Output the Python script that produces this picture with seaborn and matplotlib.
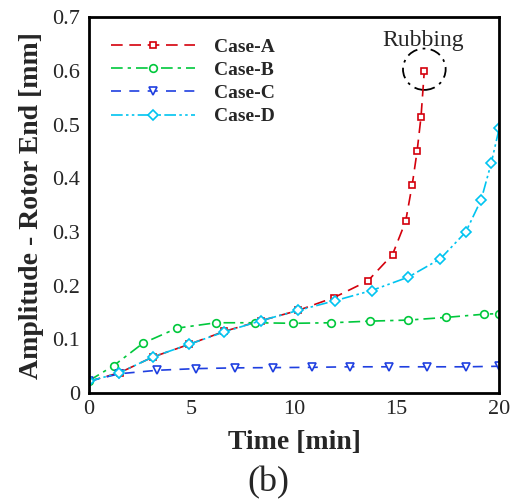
import numpy as np
import pandas as pd
import matplotlib
matplotlib.use("Agg")
import matplotlib.pyplot as plt
from matplotlib.patches import Ellipse
from matplotlib.ticker import MultipleLocator
import seaborn as sns

# ---- data ----
time_a = [0, 1.5, 3.1, 4.9, 6.6, 8.4, 10.2, 11.95, 13.6, 14.8, 15.44, 15.76, 16.0, 16.19, 16.35]
amp_a = [0.022, 0.038, 0.067, 0.091, 0.115, 0.135, 0.154, 0.178, 0.209, 0.258, 0.320, 0.388, 0.451, 0.515, 0.600]

time_b = [0, 1.2, 2.64, 4.3, 6.19, 8.08, 9.97, 11.82, 13.68, 15.57, 17.42, 19.28, 20.0]
amp_b = [0.023, 0.051, 0.093, 0.121, 0.131, 0.131, 0.130, 0.131, 0.134, 0.136, 0.141, 0.147, 0.148]

time_c = [0, 1.47, 3.32, 5.21, 7.1, 8.99, 10.88, 12.73, 14.62, 16.48, 18.37, 20.0]
amp_c = [0.022, 0.036, 0.0425, 0.0456, 0.047, 0.0475, 0.048, 0.049, 0.049, 0.049, 0.049, 0.050]

time_d = [0, 1.47, 3.13, 4.89, 6.6, 8.4, 10.2, 11.99, 13.78, 15.57, 17.13, 18.37, 19.12, 19.61, 20.0]
amp_d = [0.022, 0.0375, 0.0675, 0.091, 0.114, 0.135, 0.154, 0.172, 0.191, 0.216, 0.250, 0.300, 0.360, 0.428, 0.493]

case_labels = ["Case-A", "Case-B", "Case-C", "Case-D"]
x_ticks = [0, 5, 10, 15, 20]
y_ticks = [0, 0.1, 0.2, 0.3, 0.4, 0.5, 0.6, 0.7]
y_tick_labels = ["0", "0.1", "0.2", "0.3", "0.4", "0.5", "0.6", "0.7"]

sns.set_style("white")
plt.rcParams["font.family"] = ["Liberation Serif", "DejaVu Serif"]

fig = plt.figure(figsize=(5.2, 5.04), dpi=100)
ax = fig.add_axes([0.171, 0.220, 0.789, 0.746])

series = [
    (time_a, amp_a, "#d4000c", (0, (7, 4)), "s", 5.0),
    (time_b, amp_b, "#00c83c", (0, (7, 3, 2, 3)), "o", 5.5),
    (time_c, amp_c, "#1f3fe0", (0, (6, 5)), "v", 6.0),
    (time_d, amp_d, "#00c4f0", (0, (7, 2, 1.5, 2, 1.5, 2)), "D", 5.0),
]
for (t, a, col, ls, mk, ms), lab in zip(series, case_labels):
    df = pd.DataFrame({"t": t, "a": a})
    sns.lineplot(data=df, x="t", y="a", ax=ax, estimator=None, sort=False,
                 color=col, linestyle=ls, linewidth=1.2, marker=mk,
                 markersize=ms, markerfacecolor="white",
                 markeredgecolor=col, markeredgewidth=1.2, label=lab)

# rubbing annotation
ax.add_patch(Ellipse((16.35, 0.603), 2.08, 0.077, fill=False, edgecolor="black",
                     linewidth=1.3, linestyle=(0, (6, 3, 1.5, 3))))
ax.text(16.3, 0.656, "Rubbing", ha="center", va="center", fontsize=17)

ax.set_xlim(0, 20)
ax.set_ylim(0, 0.7)
ax.set_xticks(x_ticks)
ax.set_xticklabels([str(v) for v in x_ticks])
ax.set_yticks(y_ticks)
ax.set_yticklabels(y_tick_labels)
ax.xaxis.set_minor_locator(MultipleLocator(1))
ax.yaxis.set_minor_locator(MultipleLocator(0.02))
ax.tick_params(axis="both", which="major", direction="in", length=6, width=1.5,
               labelsize=16, top=False, right=False)
ax.tick_params(axis="y", which="major", pad=6.5)
ax.tick_params(axis="x", which="major", pad=5)
ax.tick_params(axis="both", which="minor", direction="in", length=3.2, width=1,
               top=False, right=False)
for sp in ax.spines.values():
    sp.set_linewidth(2)
    sp.set_color("black")

ax.set_xlabel("Time [min]", fontsize=20, fontweight="bold", labelpad=8)
ax.set_ylabel("Amplitude - Rotor End [mm]", fontsize=20, fontweight="bold", labelpad=6)

leg = ax.legend(loc="upper left", bbox_to_anchor=(0.054, 0.943), frameon=False,
                borderaxespad=0, borderpad=0,
                handlelength=4.3, handletextpad=1.0, labelspacing=0.28,
                prop={"weight": "bold", "size": 14}, numpoints=1)

fig.text(0.517, 0.042, "(b)", ha="center", va="center", fontsize=26)

fig.savefig("out.png", dpi=100, facecolor="white")
